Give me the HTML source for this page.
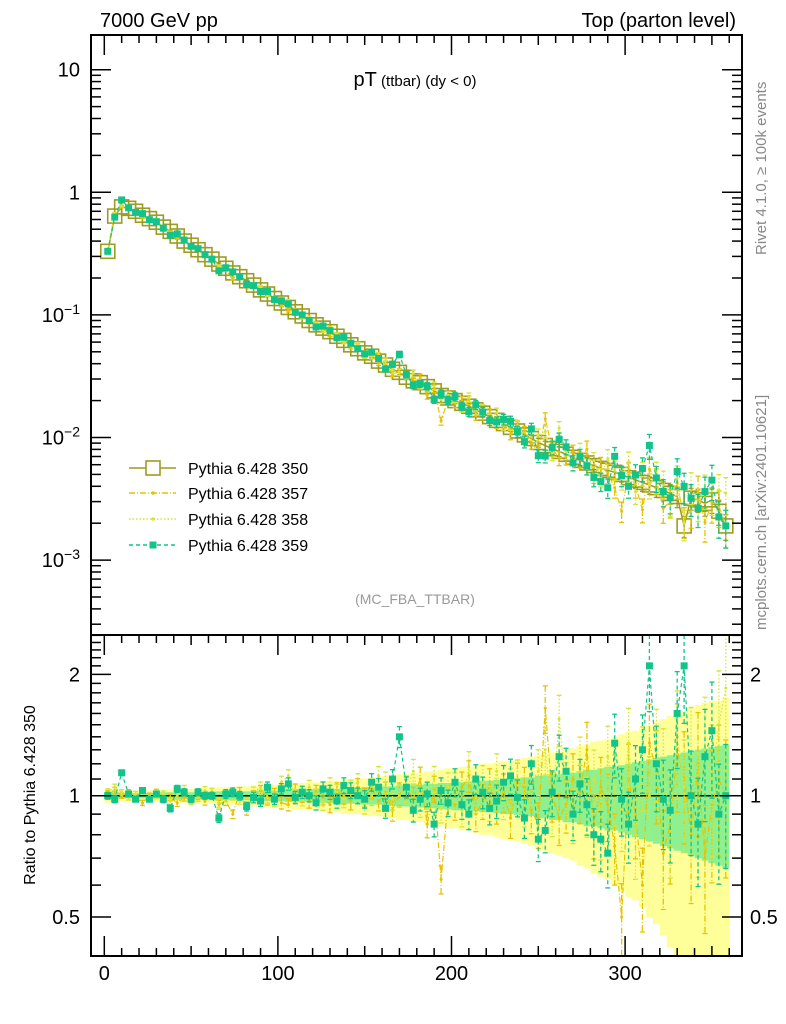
<!DOCTYPE html>
<html><head><meta charset="utf-8"><style>
html,body{margin:0;padding:0;background:#fff}
svg{display:block;font-family:"Liberation Sans",sans-serif}
</style></head><body>
<svg id="c" width="786" height="1024" viewBox="0 0 786 1024" xmlns="http://www.w3.org/2000/svg">
<text x="100" y="27" font-size="20">7000 GeV pp</text>
<text x="736" y="27" font-size="20" text-anchor="end">Top (parton level)</text>
<text x="415" y="86" text-anchor="middle"><tspan font-size="20">pT</tspan><tspan font-size="15"> (ttbar) (dy &lt; 0)</tspan></text>
<text x="415" y="604" text-anchor="middle" font-size="14" fill="#999">(MC_FBA_TTBAR)</text>
<text transform="translate(766,255) rotate(-90)" font-size="15" fill="#888">Rivet 4.1.0, ≥ 100k events</text>
<text transform="translate(766,630) rotate(-90)" font-size="15" fill="#888">mcplots.cern.ch [arXiv:2401.10621]</text>
<text transform="translate(35,795) rotate(-90)" font-size="16" text-anchor="middle">Ratio to Pythia 6.428 350</text>
<g id="bands"></g><g id="ratio"></g><g id="main"></g><g id="axes"></g><g id="legend"></g>
</svg>
<script>
const centers=[];for(let i=0;i<90;i++)centers.push(2+4*i);
const v350=[0.33,0.64,0.76,0.74,0.70,0.65,0.61,0.57,0.52,0.48,0.44,0.40,0.37,0.34,0.31,0.285,0.26,0.24,0.22,0.205,0.19,0.175,0.16,0.148,0.136,0.125,0.115,0.106,0.098,0.09,0.083,0.078,0.073,0.067,0.062,0.057,0.053,0.049,0.046,0.042,0.039,0.036,0.034,0.031,0.029,0.028,0.026,0.024,0.022,0.021,0.020,0.019,0.018,0.0168,0.0158,0.0148,0.0138,0.013,0.0121,0.0113,0.0105,0.0098,0.0091,0.0086,0.0081,0.0077,0.0073,0.0069,0.0065,0.0062,0.0059,0.0056,0.0054,0.0052,0.0050,0.0047,0.0045,0.0043,0.0041,0.0039,0.0037,0.0035,0.0033,0.0019,0.0032,0.0031,0.0029,0.0031,0.0025,0.0019];
const r359=[1.00,0.98,1.14,1.01,0.98,1.03,0.98,1.01,0.98,0.93,1.04,1.02,0.98,1.02,1.00,1.00,0.88,1.01,1.02,1.00,0.94,0.99,0.97,1.05,0.98,1.04,1.07,0.99,1.02,1.00,0.96,1.04,1.02,0.97,1.06,1.03,1.00,0.98,1.08,1.05,0.93,1.10,1.40,1.05,0.92,0.98,1.01,0.85,1.03,0.96,1.08,0.95,0.90,1.10,1.02,0.93,0.97,1.08,1.12,0.99,0.88,1.20,0.78,0.82,1.02,1.25,1.15,0.90,1.07,0.95,0.80,0.78,0.72,1.35,0.98,0.85,1.10,1.30,2.10,1.20,0.98,0.92,1.60,2.10,1.00,0.85,1.25,1.45,0.90,1.00];
const r357=[1.01,1.03,1.00,1.02,0.99,0.96,1.00,1.02,0.98,0.99,0.96,0.99,0.98,1.00,0.97,1.02,0.95,0.97,0.90,1.02,0.92,1.00,1.03,0.98,1.01,0.96,0.95,1.03,1.00,0.97,1.02,0.99,0.95,1.03,1.00,0.97,1.05,0.99,1.04,0.97,1.02,0.92,1.01,1.05,0.98,1.10,0.85,1.04,0.62,0.97,0.95,1.05,1.12,0.90,0.97,1.06,0.95,1.02,0.88,1.08,1.05,0.92,0.85,1.65,1.00,0.88,0.95,1.10,1.02,1.30,0.85,1.05,0.95,0.75,0.50,1.10,0.90,0.60,1.35,1.15,0.72,0.85,1.30,1.10,0.80,1.20,0.70,0.95,1.10,1.00];
const r358=[1.02,1.05,1.02,0.99,1.01,1.03,0.98,1.00,1.01,0.97,1.00,1.04,0.97,0.99,1.03,1.02,0.96,0.99,1.00,0.98,0.96,1.02,1.05,0.99,0.97,1.08,1.12,1.00,0.98,1.05,1.00,0.96,1.06,1.02,0.98,1.04,1.08,0.95,1.00,1.12,1.08,0.98,1.00,1.03,1.15,0.95,1.00,1.10,0.93,1.05,1.05,0.92,1.18,1.00,1.08,0.96,1.15,0.98,1.05,1.10,0.95,1.08,1.15,1.30,0.92,1.55,1.05,0.90,1.20,0.95,1.10,0.85,1.25,1.05,0.92,1.35,0.80,1.20,1.00,1.30,1.15,0.88,1.40,1.05,1.25,0.95,1.30,1.10,1.50,1.85];
const bandY=[.04,.035,.03,.03,.03,.03,.03,.035,.035,.035,.04,.04,.04,.045,.045,.045,.05,.05,.05,.055,.055,.06,.06,.065,.065,.07,.07,.075,.075,.08,.08,.085,.09,.09,.095,.10,.10,.105,.11,.11,.12,.12,.13,.13,.14,.14,.15,.15,.16,.17,.17,.18,.18,.19,.20,.20,.21,.22,.22,.23,.24,.25,.26,.27,.28,.29,.30,.31,.33,.34,.36,.37,.38,.40,.42,.44,.45,.47,.50,.52,.55,.58,.60,.62,.65,.68,.70,.72,.72,.75];
const bandG=[.02,.02,.015,.015,.015,.015,.015,.015,.02,.02,.02,.02,.02,.02,.02,.02,.025,.025,.025,.025,.025,.03,.03,.03,.03,.03,.035,.035,.035,.035,.04,.04,.04,.04,.045,.045,.045,.05,.05,.05,.055,.055,.06,.06,.065,.065,.07,.07,.075,.075,.08,.08,.085,.085,.09,.09,.095,.10,.10,.105,.11,.11,.12,.12,.13,.13,.14,.14,.15,.16,.16,.17,.18,.18,.19,.20,.21,.22,.23,.24,.25,.26,.27,.28,.29,.30,.31,.32,.33,.34];
const xTicks=[0,100,200,300];
const mainTicks=[["10",1],["1",0],["10","-1"],["10","-2"],["10","-3"]];
const ratioTicks=[["2",2],["1",1],["0.5",0.5]];
const legendNames=["Pythia 6.428 350","Pythia 6.428 357","Pythia 6.428 358","Pythia 6.428 359"];

const NS="http://www.w3.org/2000/svg";
const L=91,R=742,T=35,MB=635,RB=956;
const X=v=>104.3+1.736*v;
const Y=v=>192.3-122.6*Math.log10(v);
const YR=r=>795.7-403*Math.log10(r);
const clipR=y=>Math.max(MB,Math.min(RB,y));
const clipM=y=>Math.max(T,Math.min(MB,y));
function mk(tag,attrs,parent){const e=document.createElementNS(NS,tag);for(const k in attrs)e.setAttribute(k,attrs[k]);parent.appendChild(e);return e;}
const gB=document.getElementById('bands'),gR=document.getElementById('ratio'),gM=document.getElementById('main'),gA=document.getElementById('axes'),gL=document.getElementById('legend');
const C350="#9c9c22",C357="#e6c300",C358="#d6e43a",C359="#13c48a";

function band(arr,col,name){let d="";centers.forEach((c,i)=>{const x0=X(c-2),x1=X(c+2);const y0=clipR(YR(1+arr[i])),y1=clipR(YR(Math.max(0.01,1-arr[i])));d+=`M${x0},${y0}H${x1}V${y1}H${x0}Z`;});
const p=mk('path',{d:d,fill:col},gB);

}
band(bandY,"#ffff99","ratio-band-357");
band(bandG,"#8ff08f","ratio-band-359");
mk('line',{x1:L,x2:R,y1:YR(1),y2:YR(1),stroke:"#000","stroke-width":1.5},gB);

function series(g,vals,errs,col,dash,marker,name,clip,yf){
  const grp=mk('g',{},g);
  
  
  const pts=vals.map((v,i)=>X(centers[i])+","+clip(yf(v))).join(" ");
  mk('polyline',{points:pts,fill:"none",stroke:col,"stroke-width":marker==="open"?1.5:1.2,"stroke-dasharray":dash},grp);
  vals.forEach((v,i)=>{const x=X(centers[i]);const ya=clip(yf(v*(1+errs[i]))),yb=clip(yf(v*Math.max(0.05,1-errs[i])));
    mk('line',{x1:x,x2:x,y1:ya,y2:yb,stroke:col,"stroke-width":1.3,"stroke-dasharray":dash},grp);
    mk('line',{x1:x-2.5,x2:x+2.5,y1:ya,y2:ya,stroke:col,"stroke-width":1.3},grp);
    mk('line',{x1:x-2.5,x2:x+2.5,y1:yb,y2:yb,stroke:col,"stroke-width":1.3},grp);
    const y=clip(yf(v));
    if(marker==="open")mk('rect',{x:x-7,y:y-7,width:14,height:14,fill:"none",stroke:col,"stroke-width":1.6},grp);
    else if(marker==="sq")mk('rect',{x:x-3.5,y:y-3.5,width:7,height:7,fill:col},grp);
    else mk('circle',{cx:x,cy:y,r:1.5,fill:col},grp);});
}
const m357=v350.map((v,i)=>v*r357[i]),m358=v350.map((v,i)=>v*r358[i]),m359=v350.map((v,i)=>v*r359[i]);
const e0=bandG.map(e=>e*0.7);
series(gM,v350,e0,C350,"","open","series-350",clipM,Y);
series(gM,m357,bandG,C357,"6,2,1,2","dot","series-357",clipM,Y);
series(gM,m358,bandG,C358,"1.5,2","dot","series-358",clipM,Y);
series(gM,m359,bandG,C359,"4,3","sq","series-359",clipM,Y);
series(gR,r357,bandY.map(e=>e*0.5),C357,"6,2,1,2","dot","ratio-357",clipR,YR);
series(gR,r358,bandY.map(e=>e*0.5),C358,"1.5,2","dot","ratio-358",clipR,YR);
series(gR,r359,bandG,C359,"4,3","sq","ratio-359",clipR,YR);

mk('rect',{x:L,y:T,width:R-L,height:MB-T,fill:"none",stroke:"#000","stroke-width":2},gA);
mk('rect',{x:L,y:MB,width:R-L,height:RB-MB,fill:"none",stroke:"#000","stroke-width":2},gA);
for(let v=0;v<=360;v+=10){const x=X(v);const big=v%100===0;const len=big?20:(v%50===0?10:8);
  [[T,1],[MB,1],[RB,-1]].forEach(([y,s])=>{
    mk('line',{x1:x,x2:x,y1:y,y2:y+s*len,stroke:"#000","stroke-width":1.5},gA);});}
xTicks.forEach(v=>{const t=mk('text',{x:X(v),y:980,"font-size":20,"text-anchor":"middle"},gA);t.textContent=v;
  
  });
for(let d=-4;d<=1;d++){for(let k=1;k<10;k++){const v=k*Math.pow(10,d);const y=Y(v);if(y<T||y>MB)continue;const len=k===1?20:10;
  mk('line',{x1:L,x2:L+len,y1:y,y2:y,stroke:"#000","stroke-width":1.5},gA);
  mk('line',{x1:R,x2:R-len,y1:y,y2:y,stroke:"#000","stroke-width":1.5},gA);}}
mainTicks.forEach(([b,e])=>{const v=Math.pow(10,+e);const y=Y(v);
  const t=mk('text',{x:80,y:y+7,"font-size":20,"text-anchor":"end"},gA);
  
  
  if(+e===1||+e===0)t.textContent=b;else{t.textContent=b;const s=mk('tspan',{dy:-8,"font-size":14},t);s.textContent="−"+String(e).slice(1);}});
for(let k=4;k<=25;k++){const r=k/10;const y=YR(r);if(y<MB||y>RB)continue;const big=(k===5||k===10||k===20);const len=big?20:10;
  mk('line',{x1:L,x2:L+len,y1:y,y2:y,stroke:"#000","stroke-width":1.5},gA);
  mk('line',{x1:R,x2:R-len,y1:y,y2:y,stroke:"#000","stroke-width":1.5},gA);}
ratioTicks.forEach(([s,r])=>{const y=YR(r);
  const t=mk('text',{x:80,y:y+7,"font-size":20,"text-anchor":"end"},gA);t.textContent=s;
  
  
  const t2=mk('text',{x:750,y:y+7,"font-size":20},gA);t2.textContent=s;
  
  });
const legY=[468,493,519,545],legC=[C350,C357,C358,C359],legD=["","6,2,1,2","1.5,2","4,3"],legM=["open","dot","dot","sq"];
legendNames.forEach((n,i)=>{const g=mk('g',{},gL);
  
  
  const y=legY[i];mk('line',{x1:129,x2:176,y1:y,y2:y,stroke:legC[i],"stroke-width":1.5,"stroke-dasharray":legD[i]},g);
  if(legM[i]==="open")mk('rect',{x:146,y:y-7,width:14,height:14,fill:"#fff",stroke:legC[i],"stroke-width":1.6},g);
  else if(legM[i]==="sq")mk('rect',{x:149.5,y:y-3.5,width:7,height:7,fill:legC[i]},g);
  else mk('circle',{cx:153,cy:y,r:1.8,fill:legC[i]},g);
  const t=mk('text',{x:188,y:y+6,"font-size":16},g);t.textContent=n;});
</script>
</body></html>
